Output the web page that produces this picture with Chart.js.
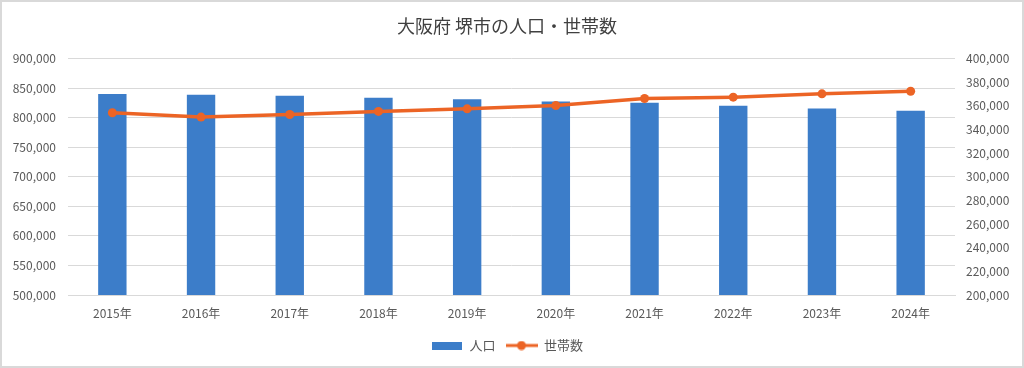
<!DOCTYPE html>
<html>
<head>
<meta charset="utf-8">
<script src="https://cdn.jsdelivr.net/npm/chart.js@4"></script>
<style>
  html, body { margin: 0; padding: 0; background: #fff; }
  #wrap { width: 1024px; height: 368px; position: relative; }
</style>
</head>
<body>
<div id="wrap"><canvas id="chart"></canvas></div>
<script>
// 堺市の人口・世帯数
const years = ['2015年', '2016年', '2017年', '2018年', '2019年', '2020年', '2021年', '2022年', '2023年', '2024年'];
const population = [840300, 838700, 837000, 833700, 831300, 827400, 825200, 820200, 815600, 811700];
const households = [354200, 350500, 352700, 355300, 357500, 360300, 366200, 367400, 370200, 372400];

const BLUE = '#3C7DC9';
const ORANGE = '#EC6425';
const FONT = "'Noto Sans CJK JP', 'Noto Sans', sans-serif";

// 凡例用の小さな記号
function legendBar() {
  const c = document.createElement('canvas');
  c.width = 30; c.height = 8;
  const g = c.getContext('2d');
  g.fillStyle = BLUE;
  g.fillRect(0, 0, 30, 8);
  return c;
}
function legendLine() {
  const c = document.createElement('canvas');
  c.width = 32; c.height = 10;
  const g = c.getContext('2d');
  g.strokeStyle = ORANGE; g.lineWidth = 3;
  g.beginPath(); g.moveTo(0, 5); g.lineTo(32, 5); g.stroke();
  g.fillStyle = ORANGE;
  g.beginPath(); g.arc(16, 5, 4.5, 0, Math.PI * 2); g.fill();
  return c;
}
const legendIcons = [legendBar(), legendLine()];

const frame = {
  id: 'frame',
  beforeDraw(chart) {
    const ctx = chart.ctx;
    ctx.save();
    ctx.fillStyle = '#fff';
    ctx.fillRect(0, 0, chart.width, chart.height);
    ctx.strokeStyle = '#d9d9d9';
    ctx.lineWidth = 2;
    ctx.strokeRect(1, 1, chart.width - 2, chart.height - 2);
    ctx.restore();
  }
};

new Chart(document.getElementById('chart'), {
  data: {
    labels: years,
    datasets: [
      {
        type: 'line',
        label: '世帯数',
        data: households,
        yAxisID: 'y2',
        borderColor: ORANGE,
        backgroundColor: ORANGE,
        borderWidth: 3.5,
        pointRadius: 4.5,
        pointBackgroundColor: ORANGE,
        pointBorderWidth: 0,
        tension: 0,
        order: 0,
      },
      {
        type: 'bar',
        label: '人口',
        data: population,
        yAxisID: 'y',
        backgroundColor: BLUE,
        categoryPercentage: 1,
        barPercentage: 0.32,
        order: 1,
      },
    ]
  },
  options: {
    responsive: true,
    maintainAspectRatio: false,
    animation: false,
    layout: { padding: { left: 0, right: 10, bottom: 6 } },
    plugins: {
      title: {
        display: true,
        text: '大阪府 堺市の人口・世帯数',
        color: '#404040',
        font: { family: FONT, size: 18, weight: 'normal' },
        padding: { top: 15, bottom: 22 },
      },
      legend: {
        position: 'bottom',
        reverse: true,
        labels: {
          color: '#595959',
          font: { family: FONT, size: 13 },
          usePointStyle: true,
          pointStyleWidth: 32,
          padding: 10,
          generateLabels(chart) {
            const items = Chart.defaults.plugins.legend.labels.generateLabels(chart);
            items.forEach(it => { it.pointStyle = legendIcons[it.datasetIndex === 1 ? 0 : 1]; });
            return items;
          }
        }
      },
      tooltip: { enabled: false },
    },
    scales: {
      x: {
        grid: { display: false, drawTicks: false },
        border: { color: '#d9d9d9' },
        ticks: { color: '#595959', font: { family: FONT, size: 12 }, padding: 11 },
        afterFit: s => { s.height = 34; },
      },
      y: {
        position: 'left',
        min: 500000,
        max: 900000,
        grid: { color: '#d9d9d9', drawTicks: false },
        border: { display: false },
        ticks: {
          stepSize: 50000,
          color: '#595959',
          font: { family: FONT, size: 12 },
          padding: 12,
          callback: v => v.toLocaleString('en-US'),
        },
        afterFit: s => { s.width = 68; },
      },
      y2: {
        position: 'right',
        min: 200000,
        max: 400000,
        grid: { display: false, drawTicks: false },
        border: { display: false },
        ticks: {
          stepSize: 20000,
          color: '#595959',
          font: { family: FONT, size: 12 },
          padding: 11,
          callback: v => v.toLocaleString('en-US'),
        },
        afterFit: s => { s.width = 59; },
      },
    }
  },
  plugins: [frame]
});
</script>
</body>
</html>
